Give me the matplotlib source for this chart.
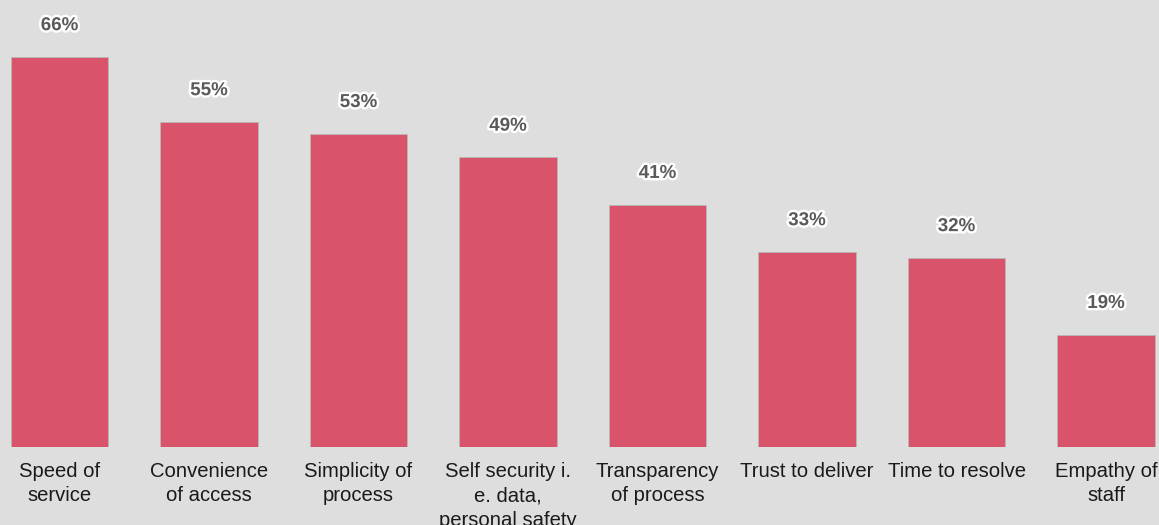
"""Bar chart of the factors that matter most in service, share of respondents."""
import matplotlib
matplotlib.use("Agg")
import matplotlib.pyplot as plt
import matplotlib.patheffects as pe
import numpy as np

BACKGROUND = "#dedede"
BAR_COLOR = "#d9536b"
TEXT_COLOR = "#1a1a1a"
VALUE_COLOR = "#5a5a5a"

categories = [
    "Speed of\nservice",
    "Convenience\nof access",
    "Simplicity of\nprocess",
    "Self security i.\ne. data,\npersonal safety",
    "Transparency\nof process",
    "Trust to deliver",
    "Time to resolve",
    "Empathy of\nstaff",
]
values = [66, 55, 53, 49, 41, 33, 32, 19]

plt.rcParams["font.family"] = ["Liberation Sans", "DejaVu Sans"]

fig = plt.figure(figsize=(11.59, 5.25), dpi=100)
fig.patch.set_facecolor(BACKGROUND)
ax = fig.add_axes([0, 78 / 525, 1, 447 / 525])
ax.set_facecolor(BACKGROUND)

x = np.arange(len(categories))
bars = ax.bar(x, values, 0.65, color=BAR_COLOR,
              edgecolor="#b8b8b8", linewidth=0.6, zorder=3)

for bar, v in zip(bars, values):
    ax.annotate(f"{v}%",
                (bar.get_x() + bar.get_width() / 2, bar.get_height()),
                xytext=(0, 22.5), textcoords="offset points",
                ha="center", va="center",
                fontsize=13.5, fontweight="bold", color=VALUE_COLOR,
                path_effects=[pe.withStroke(linewidth=3.5, foreground="white")])

ax.set_xlim(-59.5 / 149.5, (1159 - 59.5) / 149.5)
ax.set_ylim(0, 447 / 5.91)

ax.set_xticks(x)
ax.set_xticklabels(categories, fontsize=14.6, color=TEXT_COLOR,
                   linespacing=1.38, va="top")
ax.tick_params(axis="x", length=0, pad=10.5)
ax.set_yticks([])
for s in ax.spines.values():
    s.set_visible(False)

plt.savefig("out.png", dpi=100, facecolor=BACKGROUND)
